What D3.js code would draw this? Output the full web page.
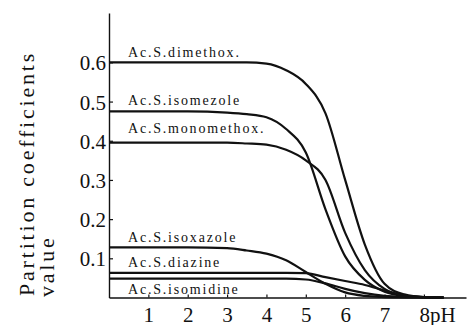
<!DOCTYPE html>
<html>
<head>
<meta charset="utf-8">
<script src="https://cdn.jsdelivr.net/npm/d3@7"></script>
<style>
  body { margin: 0; background: #fff; }
  .lbl { font-size: 14px; letter-spacing: 1.8px; }
  .tick-lbl { font-size: 21px; }
  .title { font-size: 22px; letter-spacing: 2.8px; }
</style>
</head>
<body>
<svg width="468" height="325"></svg>
<script>
// pH grid shared by all curves
var phValues = [0, 1, 2, 3, 3.5, 4, 4.5, 5, 5.5, 6, 6.5, 7, 7.5, 8, 8.5];

var seriesNames = ['Ac.S.dimethox.', 'Ac.S.isomezole', 'Ac.S.monomethox.',
  'Ac.S.isoxazole', 'Ac.S.diazine', 'Ac.S.isomidine'];

var dimethox   = [0.600, 0.600, 0.600, 0.600, 0.600, 0.597, 0.580, 0.545, 0.470, 0.300, 0.135, 0.035, 0.008, 0.001, 0];
var isomezole  = [0.475, 0.475, 0.475, 0.472, 0.468, 0.460, 0.430, 0.370, 0.225, 0.105, 0.045, 0.015, 0.004, 0.001, 0];
var monomethox = [0.395, 0.395, 0.395, 0.395, 0.393, 0.390, 0.377, 0.350, 0.300, 0.165, 0.070, 0.022, 0.005, 0.001, 0];
var isoxazole  = [0.128, 0.128, 0.128, 0.126, 0.120, 0.112, 0.095, 0.065, 0.035, 0.013, 0.004, 0.001, 0, 0, 0];
var diazine    = [0.063, 0.063, 0.063, 0.063, 0.063, 0.063, 0.063, 0.062, 0.052, 0.042, 0.032, 0.018, 0.005, 0.001, 0];
var isomidine  = [0.048, 0.048, 0.048, 0.048, 0.048, 0.048, 0.048, 0.046, 0.036, 0.022, 0.011, 0.004, 0.001, 0, 0];

var seriesValues = [dimethox, isomezole, monomethox, isoxazole, diazine, isomidine];

var xTicks = [1, 2, 3, 4, 5, 6, 7, 8];
var yTicks = [0.1, 0.2, 0.3, 0.4, 0.5, 0.6];

var serif = '"Liberation Serif", "DejaVu Serif", serif';
var svg = d3.select('svg');

var scaleX = d3.scaleLinear().domain([0, 9.07]).range([109, 466]);
var scaleY = d3.scaleLinear().domain([0, 0.726]).range([297.5, 13]);

// axes
var axisX = d3.axisBottom(scaleX).tickValues(xTicks).tickSize(-3).tickSizeOuter(0)
  .tickFormat(function(d) { return d; });
var axisY = d3.axisLeft(scaleY).tickValues(yTicks).tickSize(-4).tickSizeOuter(0)
  .tickFormat(d3.format('.1f'));

var gx = svg.append('g').attr('transform', 'translate(0,' + scaleY(0) + ')').call(axisX);
var gy = svg.append('g').attr('transform', 'translate(' + scaleX(0) + ',0)').call(axisY);

[gx, gy].forEach(function(g) {
  g.attr('font-family', serif).attr('font-size', null);
  g.select('.domain').attr('stroke', '#111').attr('stroke-width', 1.4);
  g.selectAll('.tick line').attr('stroke', '#111').attr('stroke-width', 1.2);
  g.selectAll('.tick text').attr('class', 'tick-lbl').attr('fill', '#111')
    .style('font-family', serif);
});
gx.selectAll('.tick text').attr('dy', null).attr('y', 24);
gx.selectAll('.tick text').filter(function(d) { return d === 8; })
  .attr('text-anchor', 'start').attr('dx', -5).text('8pH');
gy.selectAll('.tick text').attr('x', -3).attr('dy', '0.36em');

// curves
var line = d3.line()
  .x(function(d, i) { return scaleX(phValues[i]); })
  .y(function(d) { return scaleY(d); })
  .curve(d3.curveMonotoneX);

svg.append('g').selectAll('path')
  .data(seriesValues)
  .enter().append('path')
  .attr('d', line)
  .attr('fill', 'none')
  .attr('stroke', '#111')
  .attr('stroke-width', 2.2);

// labels sit just above their plateau (isomidine below)
var labelOffsets = [-5, -6, -10, -5, -6, 15];
svg.append('g').selectAll('text')
  .data(seriesNames)
  .enter().append('text')
  .attr('class', 'lbl')
  .style('font-family', serif)
  .attr('fill', '#111')
  .attr('x', 128)
  .attr('y', function(d, i) { return scaleY(seriesValues[i][0]) + labelOffsets[i]; })
  .text(function(d) { return d; });

// y title
svg.append('text').attr('class', 'title')
  .style('font-family', serif).attr('fill', '#111')
  .attr('transform', 'translate(34,296)rotate(-90)')
  .text('Partition coefficients');
svg.append('text').attr('class', 'title')
  .style('font-family', serif).attr('fill', '#111')
  .attr('transform', 'translate(54,297)rotate(-90)')
  .text('value');
</script>
</body>
</html>
